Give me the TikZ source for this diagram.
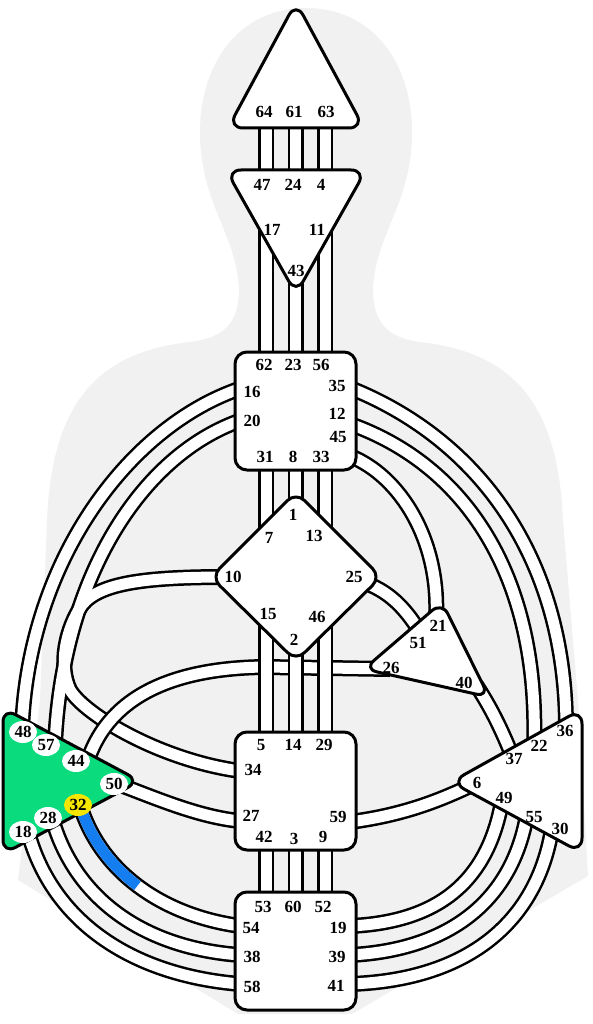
\documentclass[tikz,border=0pt]{standalone}
\usepackage{fontspec}
\setmainfont{Liberation Serif}
\usetikzlibrary{shapes.geometric}
\definecolor{bg}{HTML}{F1F1F1}
\definecolor{spleengreen}{RGB}{10,220,125}
\definecolor{gateyellow}{RGB}{245,230,0}
\definecolor{chblue}{RGB}{20,125,240}
\begin{document}
\begin{tikzpicture}[x=1pt,y=-1pt,
  chout/.style={line width=16pt, draw=black},
  chin/.style={line width=11pt, draw=white},
  centerbox/.style={draw=black, line width=3pt, fill=white, line join=round},
  gate/.style={font=\fontsize{17}{17}\selectfont\bfseries, inner sep=0pt},
  sgate/.style={gate, ellipse, fill=white, minimum width=28pt, minimum height=22pt}]
\useasboundingbox (0,0) rectangle (593,1024);
% body silhouette
\fill[bg] (306,8) .. controls (372,8) and (412,62) .. (412,132)
  .. controls (412,205) and (374,235) .. (373,292)
  .. controls (374,325) and (390,338) .. (420,342)
  .. controls (510,352) and (558,400) .. (563,520)
  -- (578,700) -- (588,876) -- (352,1014) -- (238,1014) -- (18,880) -- (40,700) -- (47,520)
  .. controls (52,400) and (100,352) .. (190,342)
  .. controls (222,338) and (238,325) .. (239,292)
  .. controls (238,235) and (200,205) .. (200,132)
  .. controls (200,62) and (240,8) .. (306,8) -- cycle;
% channel paths
\def\cA{(242,388) .. controls (130,425) and (28,560) .. (22,730)}
\def\cB{(242,420) .. controls (140,455) and (62,580) .. (55,745)}
\def\cC{(228,577) .. controls (150,577) and (100,582) .. (82,605) .. controls (66,628) and (58,665) .. (70,690) .. controls (85,715) and (160,760) .. (240,771)}
\def\cD{(118,784) .. controls (160,800) and (200,817) .. (240,821)}
\def\cE{(80,805) .. controls (100,870) and (160,915) .. (240,926)}
\def\cF{(52,818) .. controls (75,900) and (145,948) .. (240,955)}
\def\cG{(27,828) .. controls (50,920) and (130,975) .. (240,984)}
\def\cH{(350,388) .. controls (480,440) and (568,560) .. (566,735)}
\def\cI{(350,424) .. controls (465,465) and (540,575) .. (534,748)}
\def\cJ{(350,456) .. controls (400,476) and (440,540) .. (436,618)}
\def\cK{(368,584) .. controls (388,592) and (404,606) .. (420,632)}
\def\cL{(476,685) .. controls (488,703) and (500,725) .. (513,758)}
\def\cM{(470,786) .. controls (430,805) and (395,816) .. (350,822)}
\def\cN{(503,795) .. controls (490,880) and (440,922) .. (350,926)}
\def\cO{(528,808) .. controls (515,900) and (450,950) .. (350,955)}
\def\cP{(553,822) .. controls (540,920) and (470,980) .. (350,984)}
\def\cQ{(88,760) .. controls (110,695) and (175,668) .. (265,667) -- (390,669)}
\def\cV{(266,110) -- (266,190) (295.5,110) -- (295.5,190) (325,110) -- (325,190)
  (266,220) -- (266,360) (295.5,220) -- (295.5,360) (325,220) -- (325,360)
  (266,460) -- (266,560) (295.5,460) -- (295.5,560) (325,460) -- (325,560)
  (266,840) -- (266,900) (295.5,840) -- (295.5,900) (325,840) -- (325,900)}
\def\cW{(266,600) -- (266,745) (295.5,600) -- (295.5,745) (325,600) -- (325,745)}
% layer 1
\foreach \c in {\cA,\cB,\cC,\cD,\cE,\cF,\cG,\cH,\cI,\cJ,\cK,\cL,\cM,\cN,\cO,\cP,\cV}{\draw[chout] \c;}
\foreach \c in {\cA,\cB,\cC,\cD,\cE,\cF,\cG,\cH,\cI,\cJ,\cK,\cL,\cM,\cN,\cO,\cP,\cV}{\draw[chin] \c;}
\draw[line width=11pt, chblue] (80,805) .. controls (90,837.5) and (110,865) .. (137.5,885.7);
% layer 2: 44-26
\draw[chout] \cQ; \draw[chin] \cQ;
% layer 3: G-sacral
\draw[chout] \cW; \draw[chin] \cW;
% centers
\path[centerbox, rounded corners=15pt] (296,2) -- (364,128) -- (228,128) -- cycle;
\path[centerbox, rounded corners=15pt] (226,170) -- (366,170) -- (296,294) -- cycle;
\path[centerbox, rounded corners=12pt] (235,352) rectangle (356,470);
\path[centerbox, rounded corners=12pt] (296,492) -- (381,577) -- (296,661) -- (211,577) -- cycle;
\path[centerbox, rounded corners=13pt] (442,602) -- (489,697) -- (364,669) -- cycle;
\path[centerbox, rounded corners=15pt] (582,709) -- (582,853) -- (451,782) -- cycle;
\path[centerbox, fill=spleengreen, rounded corners=14pt] (3,708) -- (140,781) -- (3,854) -- cycle;
\path[centerbox, rounded corners=12pt] (235,732) rectangle (356,850);
\path[centerbox, rounded corners=12pt] (235,892) rectangle (356,1010);
% head
\node[gate] (g64) at (264,112) {64};
\node[gate] (g61) at (294,112) {61};
\node[gate] (g63) at (326,112) {63};
% ajna
\node[gate] (g47) at (262,185) {47};
\node[gate] (g24) at (293,185) {24};
\node[gate] (g4) at (321,185) {4};
\node[gate] (g17) at (272,230) {17};
\node[gate] (g11) at (317,230) {11};
\node[gate] (g43) at (296,271) {43};
% throat
\node[gate] (g62) at (264,365) {62};
\node[gate] (g23) at (293,365) {23};
\node[gate] (g56) at (321,365) {56};
\node[gate] (g16) at (252,392) {16};
\node[gate] (g20) at (252,421) {20};
\node[gate] (g35) at (337,386) {35};
\node[gate] (g12) at (337,414) {12};
\node[gate] (g45) at (338,437) {45};
\node[gate] (g31) at (265,457) {31};
\node[gate] (g8) at (293,457) {8};
\node[gate] (g33) at (321,457) {33};
% G
\node[gate] (g1) at (293,515) {1};
\node[gate] (g7) at (269,538) {7};
\node[gate] (g13) at (314,536) {13};
\node[gate] (g10) at (233,577) {10};
\node[gate] (g25) at (354,577) {25};
\node[gate] (g15) at (268,614) {15};
\node[gate] (g46) at (317,617) {46};
\node[gate] (g2) at (294,640) {2};
% ego
\node[gate] (g21) at (438,626) {21};
\node[gate] (g51) at (418,643) {51};
\node[gate] (g26) at (391,668) {26};
\node[gate] (g40) at (464,683) {40};
% solar plexus
\node[gate] (g36) at (565,731) {36};
\node[gate] (g22) at (539,746) {22};
\node[gate] (g37) at (514,759) {37};
\node[gate] (g6) at (477,783) {6};
\node[gate] (g49) at (504,798) {49};
\node[gate] (g55) at (534,817) {55};
\node[gate] (g30) at (560,829) {30};
% spleen
\node[sgate] (g48) at (23,732) {48};
\node[sgate] (g57) at (46,745) {57};
\node[sgate] (g44) at (76,761) {44};
\node[sgate] (g50) at (114,784) {50};
\node[sgate, fill=gateyellow] (g32) at (78,805) {32};
\node[sgate] (g28) at (48,818) {28};
\node[sgate] (g18) at (23,832) {18};
% sacral
\node[gate] (g5) at (261,745) {5};
\node[gate] (g14) at (293,745) {14};
\node[gate] (g29) at (324,745) {29};
\node[gate] (g34) at (253,770) {34};
\node[gate] (g27) at (251,816) {27};
\node[gate] (g59) at (338,817) {59};
\node[gate] (g42) at (264,837) {42};
\node[gate] (g3) at (294,839) {3};
\node[gate] (g9) at (323,837) {9};
% root
\node[gate] (g53) at (263,907) {53};
\node[gate] (g60) at (293,907) {60};
\node[gate] (g52) at (323,907) {52};
\node[gate] (g54) at (251,928) {54};
\node[gate] (g38) at (252,957) {38};
\node[gate] (g58) at (252,987) {58};
\node[gate] (g19) at (338,928) {19};
\node[gate] (g39) at (337,957) {39};
\node[gate] (g41) at (336,986) {41};
\end{tikzpicture}
\end{document}
